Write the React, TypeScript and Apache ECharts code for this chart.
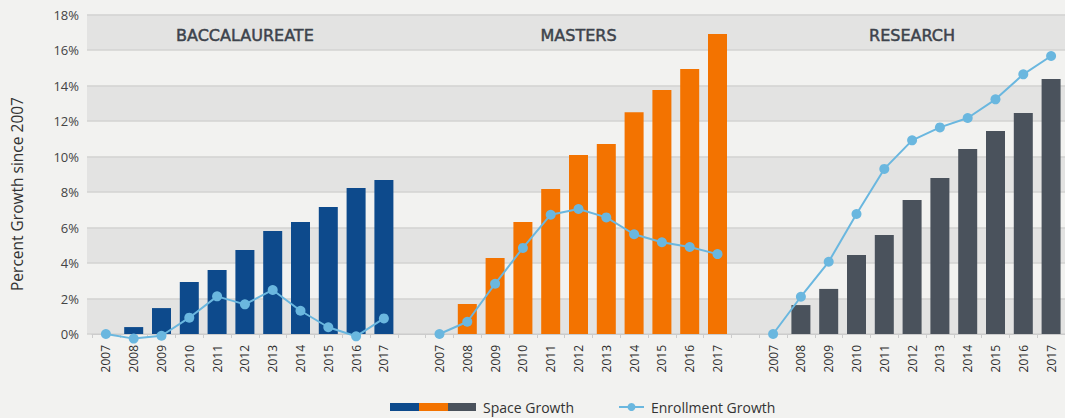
import React, { useEffect, useRef } from "react";
import * as echarts from "echarts";

const YEARS = ["2007", "2008", "2009", "2010", "2011", "2012", "2013", "2014", "2015", "2016", "2017"];
const GROUPS = ["BACCALAUREATE", "MASTERS", "RESEARCH"];
const GROUP_COLORS = ["#0d4a8c", "#f37300", "#4a525c"];

const BACC_SPACE = [0, 0.39, 1.46, 2.93, 3.6, 4.73, 5.8, 6.31, 7.15, 8.23, 8.68];
const BACC_ENROLL = [0, -0.26, -0.1, 0.92, 2.12, 1.67, 2.48, 1.31, 0.38, -0.13, 0.88];
const MASTERS_SPACE = [0, 1.69, 4.28, 6.31, 8.17, 10.08, 10.7, 12.5, 13.75, 14.93, 16.9];
const MASTERS_ENROLL = [0, 0.69, 2.83, 4.85, 6.72, 7.04, 6.57, 5.62, 5.17, 4.9, 4.5];
const RESEARCH_SPACE = [0, 1.63, 2.54, 4.45, 5.58, 7.55, 8.79, 10.42, 11.44, 12.45, 14.37];
const RESEARCH_ENROLL = [0, 2.1, 4.07, 6.76, 9.3, 10.91, 11.64, 12.17, 13.22, 14.63, 15.66];

const Y_TICKS = { min: 0, max: 18, interval: 2 };

const SPACE = [BACC_SPACE, MASTERS_SPACE, RESEARCH_SPACE];
const ENROLL = [BACC_ENROLL, MASTERS_ENROLL, RESEARCH_ENROLL];

const categories: string[] = [];
const barData: any[] = [];
const lineData: any[] = [];
GROUPS.forEach((g, gi) => {
  YEARS.forEach((y, yi) => {
    categories.push(gi + "|" + y);
    barData.push({ value: SPACE[gi][yi], itemStyle: { color: GROUP_COLORS[gi] } });
    lineData.push(ENROLL[gi][yi]);
  });
  if (gi < GROUPS.length - 1) {
    categories.push(gi + "|gap");
    barData.push("-");
    lineData.push("-");
  }
});

const swatchSvg =
  '<svg xmlns="http://www.w3.org/2000/svg" width="86" height="8" viewBox="0 0 86 8">' +
  '<rect x="0" y="0" width="29" height="8" fill="' + GROUP_COLORS[0] + '"/>' +
  '<rect x="29" y="0" width="29" height="8" fill="' + GROUP_COLORS[1] + '"/>' +
  '<rect x="58" y="0" width="28" height="8" fill="' + GROUP_COLORS[2] + '"/>' +
  "</svg>";
const swatchIcon = "image://data:image/svg+xml;charset=utf-8," + encodeURIComponent(swatchSvg);

const FONT = "Open Sans";
const LINE_COLOR = "#6ab7df";

export default function App() {
  const ref = useRef<HTMLDivElement>(null);
  useEffect(() => {
    document.body.style.margin = "0";
    const chart = echarts.init(ref.current as HTMLDivElement, null, { renderer: "svg" });
    const option: any = {
      animation: false,
      backgroundColor: "#f2f2f0",
      textStyle: { fontFamily: FONT },
      grid: [
        { left: 87, top: 14.5, height: 319.5, width: 1100 },
        { left: 92, top: 14.5, height: 319.5, width: 985 },
      ],
      xAxis: [
        { type: "category", gridIndex: 0, show: false, data: ["a"] },
        {
          type: "category",
          gridIndex: 1,
          data: categories,
          axisLine: { show: true, lineStyle: { color: "#cccccc", width: 1 } },
          axisTick: { show: true, interval: 0, length: 4, lineStyle: { color: "#cccccc" } },
          axisLabel: {
            interval: 0,
            rotate: 90,
            margin: 11,
            fontSize: 12,
            color: "#2e2e2e",
            fontFamily: FONT,
            formatter: (v: string) => {
              const p = v.split("|")[1];
              return p === "gap" ? "" : p;
            },
          },
        },
        {
          type: "category",
          gridIndex: 1,
          position: "top",
          data: categories,
          axisLine: { show: false },
          axisTick: { show: false },
          axisLabel: {
            inside: true,
            interval: 0,
            margin: 12.5,
            fontSize: 16,
            fontWeight: "normal",
            fontFamily: "DejaVu Sans",
            color: "#3d434c",
            textBorderColor: "#3d434c",
            textBorderWidth: 0.5,
            formatter: (v: string, idx: number) => (idx % 12 === 5 ? GROUPS[Math.floor(idx / 12)] : ""),
          },
        },
      ],
      yAxis: [
        {
          type: "value",
          gridIndex: 0,
          min: Y_TICKS.min,
          max: Y_TICKS.max,
          interval: Y_TICKS.interval,
          axisLabel: { show: false },
          axisLine: { show: false },
          axisTick: { show: false },
          splitLine: { show: true, lineStyle: { color: "#d3d3d2", width: 1.5 } },
          splitArea: { show: true, areaStyle: { color: ["#e3e3e2", "#f2f2f0"] } },
        },
        {
          type: "value",
          gridIndex: 1,
          min: Y_TICKS.min,
          max: Y_TICKS.max,
          interval: Y_TICKS.interval,
          axisLine: { show: false },
          axisTick: { show: false },
          splitLine: { show: false },
          axisLabel: {
            formatter: "{value}%",
            fontSize: 13,
            color: "#444444",
            fontFamily: FONT,
            margin: 13,
          },
        },
      ],
      legend: [
        {
          left: 390,
          top: 400,
          padding: 0,
          itemWidth: 86,
          itemHeight: 8,
          itemGap: 0,
          selectedMode: false,
          data: [{ name: "Space Growth", icon: swatchIcon }],
          textStyle: { fontSize: 14, color: "#333333", fontFamily: FONT, padding: [0, 0, 0, 2] },
        },
        {
          left: 618,
          top: 400,
          padding: 0,
          itemWidth: 25,
          itemHeight: 10,
          selectedMode: false,
          data: ["Enrollment Growth"],
          textStyle: { fontSize: 14, color: "#333333", fontFamily: FONT, padding: [0, 0, 0, 2] },
        },
      ],
      graphic: [
        {
          type: "text",
          x: 17,
          y: 194,
          rotation: Math.PI / 2,
          style: {
            text: "Percent Growth since 2007",
            fontSize: 15.5,
            fontFamily: FONT,
            fill: "#333333",
            align: "center",
            verticalAlign: "middle",
          },
        },
      ],
      series: [
        {
          name: "Space Growth",
          type: "bar",
          xAxisIndex: 1,
          yAxisIndex: 1,
          barWidth: 19,
          data: barData,
          itemStyle: { color: GROUP_COLORS[0] },
        },
        {
          name: "Enrollment Growth",
          type: "line",
          xAxisIndex: 1,
          yAxisIndex: 1,
          clip: false,
          connectNulls: false,
          symbol: "circle",
          symbolSize: 10,
          data: lineData,
          lineStyle: { color: LINE_COLOR, width: 2 },
          itemStyle: { color: LINE_COLOR },
          z: 3,
        },
      ],
    };
    chart.setOption(option);
    return () => chart.dispose();
  }, []);
  return <div ref={ref} style={{ width: 1065, height: 418 }} />;
}
